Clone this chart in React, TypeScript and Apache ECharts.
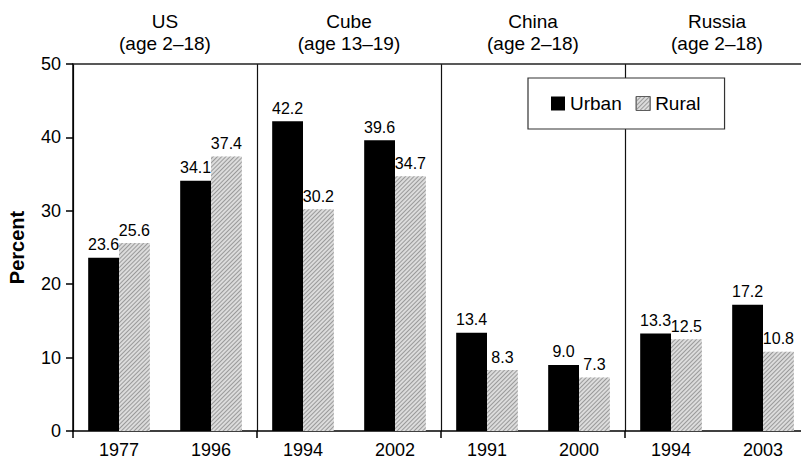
import React, { useEffect, useRef } from "react";
import * as echarts from "echarts";

const years = ["1977", "1996", "1994", "2002", "1991", "2000", "1994", "2003"];
const urban = [23.6, 34.1, 42.2, 39.6, 13.4, 9.0, 13.3, 17.2];
const rural = [25.6, 37.4, 30.2, 34.7, 8.3, 7.3, 12.5, 10.8];
const countries = ["US", "Cube", "China", "Russia"];
const ageRanges = ["(age 2–18)", "(age 13–19)", "(age 2–18)", "(age 2–18)"];
const yTicks = [0, 10, 20, 30, 40, 50];

const FONT = "Arial, 'Liberation Sans', Helvetica, sans-serif";

export default function App() {
  const ref = useRef<HTMLDivElement>(null);
  useEffect(() => {
    document.body.style.margin = "0";
    const chart = echarts.init(ref.current!, null, { renderer: "svg" });
    const valueLabel = {
      show: true,
      position: "top",
      distance: 5,
      fontSize: 16,
      color: "#000",
      fontFamily: FONT,
      formatter: (p: any) => Number(p.value).toFixed(1),
    };
    const groups = countries.map((c, i) => c + "\n" + ageRanges[i]);
    chart.setOption({
      animation: false,
      backgroundColor: "#fff",
      textStyle: { fontFamily: FONT },
      grid: { left: 73, width: 736, top: 64, height: 367, outerBoundsMode: "none", containLabel: false },
      legend: {
        left: 528,
        top: 78,
        padding: [16, 24, 16, 23],
        itemGap: 14,
        itemWidth: 14,
        itemHeight: 14,
        borderColor: "#333",
        borderWidth: 1.2,
        backgroundColor: "#fff",
        textStyle: { fontSize: 19, color: "#000", fontFamily: FONT },
        data: [
          { name: "Urban", icon: "rect" },
          { name: "Rural", icon: "rect", itemStyle: { borderColor: "#555", borderWidth: 0.8 } },
        ],
      },
      xAxis: [
        {
          type: "category",
          data: years,
          position: "bottom",
          axisLine: { lineStyle: { color: "#000", width: 1.5 } },
          axisTick: { show: false },
          axisLabel: { interval: 0, fontSize: 18, color: "#000", margin: 10, fontFamily: FONT },
          splitLine: { show: false },
        },
        {
          type: "category",
          data: groups,
          position: "top",
          axisLine: { show: true, lineStyle: { color: "#222", width: 1.5 } },
          axisTick: { show: false },
          axisLabel: { interval: 0, fontSize: 19, lineHeight: 22, color: "#000", margin: 10, fontFamily: FONT },
          splitLine: { show: true, interval: 0, lineStyle: { color: "#111", width: 1.2 } },
        },
        {
          type: "category",
          data: groups,
          position: "bottom",
          axisLine: { show: false },
          axisTick: { show: true, interval: 0, length: 7, lineStyle: { color: "#000", width: 1.5 } },
          axisLabel: { show: false },
          splitLine: { show: false },
        },
      ],
      yAxis: {
        type: "value",
        min: 0,
        max: 50,
        interval: 10,
        name: "Percent",
        nameLocation: "middle",
        nameGap: 46,
        nameTextStyle: { fontSize: 20, fontWeight: "bold", color: "#000", fontFamily: FONT },
        axisLine: { show: true, lineStyle: { color: "#000", width: 1.5 } },
        axisTick: { show: true, length: 7, lineStyle: { color: "#000", width: 1.5 } },
        axisLabel: {
          fontSize: 18,
          color: "#000",
          margin: 12,
          fontFamily: FONT,
          formatter: (v: number) => (yTicks.includes(v) ? String(v) : ""),
        },
        splitLine: { show: false },
      },
      series: [
        {
          name: "Urban",
          type: "bar",
          data: urban,
          xAxisIndex: 0,
          barGap: "0%",
          barCategoryGap: "33%",
          itemStyle: { color: "#000" },
          label: valueLabel,
        },
        {
          name: "Rural",
          type: "bar",
          data: rural,
          xAxisIndex: 0,
          barGap: "0%",
          barCategoryGap: "33%",
          itemStyle: {
            color: "#dcdcdc",
            decal: {
              symbol: "rect",
              symbolSize: 1,
              dashArrayX: [1, 0],
              dashArrayY: [1, 2],
              rotation: -Math.PI / 4,
              color: "#9a9a9a",
            },
          },
          label: valueLabel,
        },
      ],
    });
    return () => chart.dispose();
  }, []);
  return <div ref={ref} style={{ width: 801, height: 466 }} />;
}
